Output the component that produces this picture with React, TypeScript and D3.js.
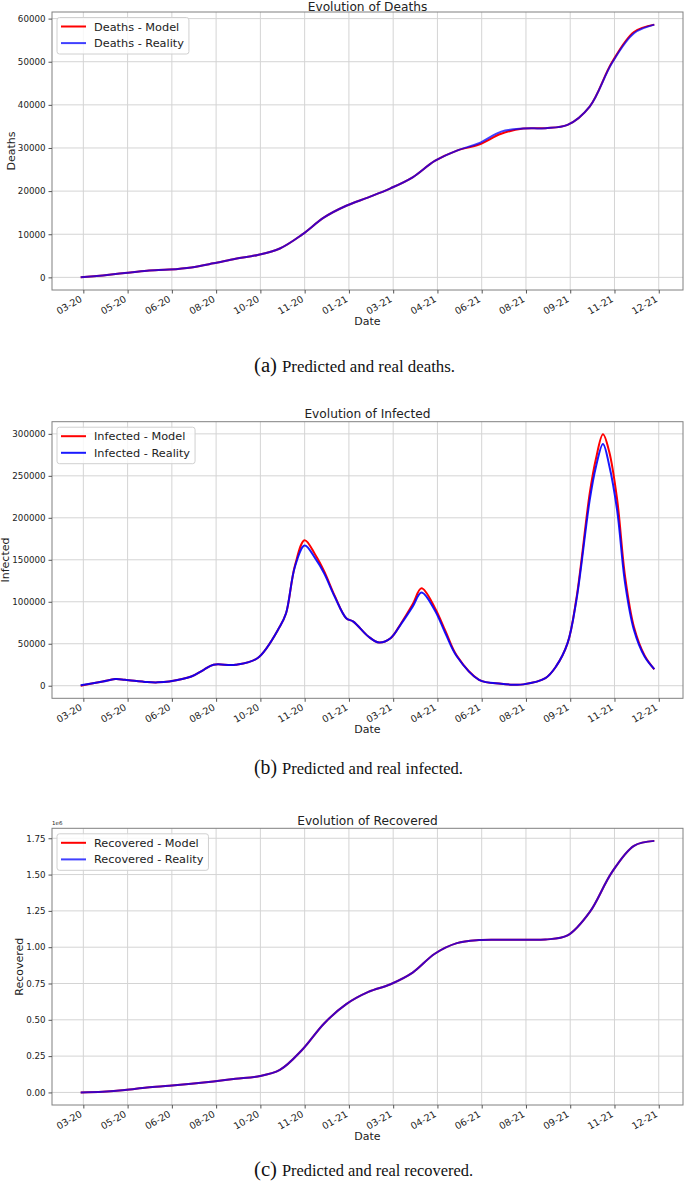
import React, { useEffect, useRef } from 'react';
import * as d3 from 'd3';

// ticks every 50 days, day 0 = first data point
const TICK_DAYS = [3, 53, 103, 153, 203, 253, 303, 353, 403, 453, 503, 553, 603, 653];
const TICK_LABELS = ['03-20', '05-20', '06-20', '08-20', '10-20', '11-20', '01-21', '03-21', '04-21', '06-21', '08-21', '09-21', '11-21', '12-21'];

const DAYS = [0, 25, 50, 75, 100, 125, 150, 175, 200, 225, 250, 275, 300, 325, 350, 375, 400, 425, 450, 475, 500, 525, 550, 575, 600, 625, 648];

const DEATHS_MODEL = [0, 460, 1000, 1550, 1800, 2300, 3250, 4330, 5200, 6700, 9900, 13900, 16600, 18560, 20650, 23200, 27000, 29400, 30800, 33300, 34500, 34600, 35350, 39600, 49800, 56900, 58600];
const DEATHS_REAL = [0, 460, 1000, 1550, 1800, 2300, 3250, 4330, 5200, 6700, 9900, 13900, 16600, 18560, 20650, 23200, 27000, 29400, 31100, 33800, 34500, 34600, 35350, 39600, 49650, 56600, 58600];
const DEATHS_TICKS = [0, 10000, 20000, 30000, 40000, 50000, 60000];

const INF_DAYS = [0, 25, 39, 50, 75, 87, 100, 125, 139, 150, 175, 200, 225, 232, 242, 253, 265, 275, 287, 300, 308, 325, 337, 350, 362, 375, 385, 400, 412, 425, 450, 475, 489, 500, 525, 537, 550, 560, 575, 582, 590, 597, 606, 615, 625, 637, 648];
const INF_MODEL = [0, 5100, 7900, 7100, 4350, 4000, 5100, 11000, 19000, 25000, 25000, 33000, 70500, 86300, 143000, 173400, 156000, 136500, 107000, 80400, 76400, 58600, 51500, 56600, 74500, 97000, 116000, 93000, 65300, 35500, 7100, 2400, 1200, 1600, 9100, 23000, 50700, 104000, 229000, 270000, 299500, 279000, 222000, 130000, 70000, 36000, 19500];
const INF_REAL = [500, 5100, 7900, 7100, 4350, 4000, 5100, 11000, 19000, 25000, 25000, 33000, 70500, 86300, 141700, 167000, 151600, 134000, 106000, 80400, 76400, 58600, 51500, 56600, 73600, 94200, 111000, 90000, 62500, 34800, 7100, 2400, 1200, 1600, 9100, 23000, 50700, 102000, 221000, 260500, 288000, 262700, 209000, 122000, 66500, 34800, 19800];
const INF_TICKS = [0, 50000, 100000, 150000, 200000, 250000, 300000];

const REC_MODEL = [0, 4600, 16000, 34000, 45700, 59400, 75400, 93700, 110000, 155000, 292000, 475000, 608000, 692000, 745000, 825000, 955000, 1028000, 1049000, 1051000, 1051000, 1053000, 1081000, 1241000, 1515000, 1698000, 1732000];
const REC_REAL = [0, 4600, 16000, 34000, 45700, 59400, 75400, 93700, 110000, 155000, 292000, 475000, 608000, 692000, 745000, 825000, 955000, 1028000, 1049000, 1051000, 1051000, 1053000, 1081000, 1241000, 1515000, 1698000, 1732000];
const REC_TICKS = [0, 250000, 500000, 750000, 1000000, 1250000, 1500000, 1750000];

const FONT = "'DejaVu Sans', sans-serif";
const SERIF = "'Liberation Serif', 'DejaVu Serif', serif";
const LEFT = 52;
const RIGHT = 683;
const INK = '#222';

function drawPanel(svg, p) {
  const g = svg.append('g');
  const maxDay = d3.max(p.days);
  const padX = maxDay * 0.05;
  const x = d3.scaleLinear().domain([-padX, maxDay + padX]).range([LEFT, RIGHT]);
  const vals = p.model.concat(p.real);
  const lo = d3.min(vals), hi = d3.max(vals), m = (hi - lo) * 0.05;
  const y = d3.scaleLinear().domain([lo - m, hi + m]).range([p.bottom, p.top]);

  // grid
  g.append('g').selectAll('line').data(TICK_DAYS).join('line')
    .attr('x1', d => x(d)).attr('x2', d => x(d))
    .attr('y1', p.top).attr('y2', p.bottom)
    .attr('stroke', '#d4d4d4').attr('stroke-width', 1);
  g.append('g').selectAll('line').data(p.ticks).join('line')
    .attr('x1', LEFT).attr('x2', RIGHT)
    .attr('y1', d => y(d)).attr('y2', d => y(d))
    .attr('stroke', '#d4d4d4').attr('stroke-width', 1);

  // curves
  const line = d3.line().x((d, i) => x(p.days[i])).y(d => y(d)).curve(d3.curveCatmullRom.alpha(0.5));
  g.append('path').attr('d', line(p.model)).attr('fill', 'none')
    .attr('stroke', '#ff0000').attr('stroke-width', 2);
  g.append('path').attr('d', line(p.real)).attr('fill', 'none')
    .attr('stroke', '#0000ff').attr('stroke-width', 2).attr('stroke-opacity', p.blueOpacity);

  // frame
  g.append('rect').attr('x', LEFT).attr('y', p.top)
    .attr('width', RIGHT - LEFT).attr('height', p.bottom - p.top)
    .attr('fill', 'none').attr('stroke', '#808080').attr('stroke-width', 1);

  // x axis
  const xa = g.append('g').attr('transform', `translate(0,${p.bottom})`)
    .call(d3.axisBottom(x).tickValues(TICK_DAYS).tickFormat((d, i) => TICK_LABELS[i]).tickSize(3.5));
  xa.select('.domain').remove();
  xa.attr('font-size', 9.5).attr('font-family', FONT);
  xa.selectAll('line').attr('stroke', '#555');
  xa.selectAll('text')
    .attr('x', 0).attr('y', 0).attr('dy', 0)
    .attr('text-anchor', 'end').attr('fill', INK)
    .attr('transform', 'translate(-1,11) rotate(-30)');

  // y axis
  const ya = g.append('g').attr('transform', `translate(${LEFT},0)`)
    .call(d3.axisLeft(y).tickValues(p.ticks).tickFormat(p.fmt).tickSize(3.5).tickPadding(3));
  ya.select('.domain').remove();
  ya.attr('font-size', 8.7).attr('font-family', FONT);
  ya.selectAll('line').attr('stroke', '#555');
  ya.selectAll('text').attr('fill', INK);
  const bb = ya.node().getBBox();

  if (p.offset) {
    g.append('text').attr('x', LEFT).attr('y', p.top - 3)
      .attr('font-size', 5.5).attr('font-family', FONT).attr('fill', INK).text(p.offset);
  }

  // labels
  g.append('text')
    .attr('transform', `translate(${LEFT + bb.x - 3},${(p.top + p.bottom) / 2}) rotate(-90)`)
    .attr('text-anchor', 'middle').attr('font-size', 11).attr('font-family', FONT).attr('fill', INK)
    .text(p.key);
  g.append('text').attr('x', (LEFT + RIGHT) / 2).attr('y', p.bottom + 35)
    .attr('text-anchor', 'middle').attr('font-size', 11).attr('font-family', FONT).attr('fill', INK)
    .text('Date');
  g.append('text').attr('x', (LEFT + RIGHT) / 2).attr('y', Math.max(p.top - 3.8, 11.3))
    .attr('text-anchor', 'middle').attr('font-size', 12.2).attr('font-family', FONT).attr('fill', INK)
    .text(`Evolution of ${p.key}`);

  // legend
  const lg = g.append('g').attr('transform', `translate(${LEFT + 5},${p.top + 5.5})`);
  const box = lg.append('rect').attr('rx', 2.5).attr('ry', 2.5)
    .attr('fill', '#fff').attr('fill-opacity', 0.8)
    .attr('stroke', '#d0d0d0').attr('stroke-width', 1);
  const entries = [
    { name: `${p.key} - Model`, color: '#ff0000', op: 1 },
    { name: `${p.key} - Reality`, color: '#0000ff', op: p.blueOpacity },
  ];
  let maxW = 0;
  entries.forEach((e, i) => {
    const ry = 9 + i * 16.6;
    lg.append('line').attr('x1', 4).attr('x2', 29).attr('y1', ry).attr('y2', ry)
      .attr('stroke', e.color).attr('stroke-width', 2).attr('stroke-opacity', e.op);
    const t = lg.append('text').attr('x', 37).attr('y', ry).attr('dy', '0.36em')
      .attr('font-size', 11.3).attr('font-family', FONT).attr('fill', INK).text(e.name);
    maxW = Math.max(maxW, t.node().getComputedTextLength());
  });
  box.attr('x', 0).attr('y', 0).attr('width', maxW + 42).attr('height', 36.5);

  // caption
  svg.append('text').attr('x', 254).attr('y', p.capY)
    .attr('font-size', 20).attr('font-family', SERIF).attr('fill', '#111')
    .attr('textLength', 23).attr('lengthAdjust', 'spacingAndGlyphs')
    .text(p.letter);
  svg.append('text').attr('x', 282).attr('y', p.capY)
    .attr('font-size', 17).attr('font-family', SERIF).attr('fill', '#111')
    .attr('textLength', p.capW).attr('lengthAdjust', 'spacingAndGlyphs')
    .text(p.caption);
}

const App = () => {
  const ref = useRef(null);

  useEffect(() => {
    const svg = d3.select(ref.current);
    svg.selectAll('*').remove();
    const panels = [
      {
        key: 'Deaths', top: 12, bottom: 290, days: DAYS, model: DEATHS_MODEL, real: DEATHS_REAL,
        ticks: DEATHS_TICKS, fmt: d3.format('d'), blueOpacity: 0.75, offset: null,
        letter: '(a)', caption: 'Predicted and real deaths.', capY: 372, capW: 173,
      },
      {
        key: 'Infected', top: 421.7, bottom: 698.3, days: INF_DAYS, model: INF_MODEL, real: INF_REAL,
        ticks: INF_TICKS, fmt: d3.format('d'), blueOpacity: 0.9, offset: null,
        letter: '(b)', caption: 'Predicted and real infected.', capY: 774, capW: 181,
      },
      {
        key: 'Recovered', top: 828.3, bottom: 1105, days: DAYS, model: REC_MODEL, real: REC_REAL,
        ticks: REC_TICKS, fmt: d => (d / 1e6).toFixed(2), blueOpacity: 0.75, offset: '1e6',
        letter: '(c)', caption: 'Predicted and real recovered.', capY: 1176, capW: 191,
      },
    ];
    panels.forEach(p => drawPanel(svg, p));
  }, []);

  return (
    <svg ref={ref} width={685} height={1182}
      style={{ position: 'absolute', left: 0, top: 0, background: '#fff' }} />
  );
};

export default App;
